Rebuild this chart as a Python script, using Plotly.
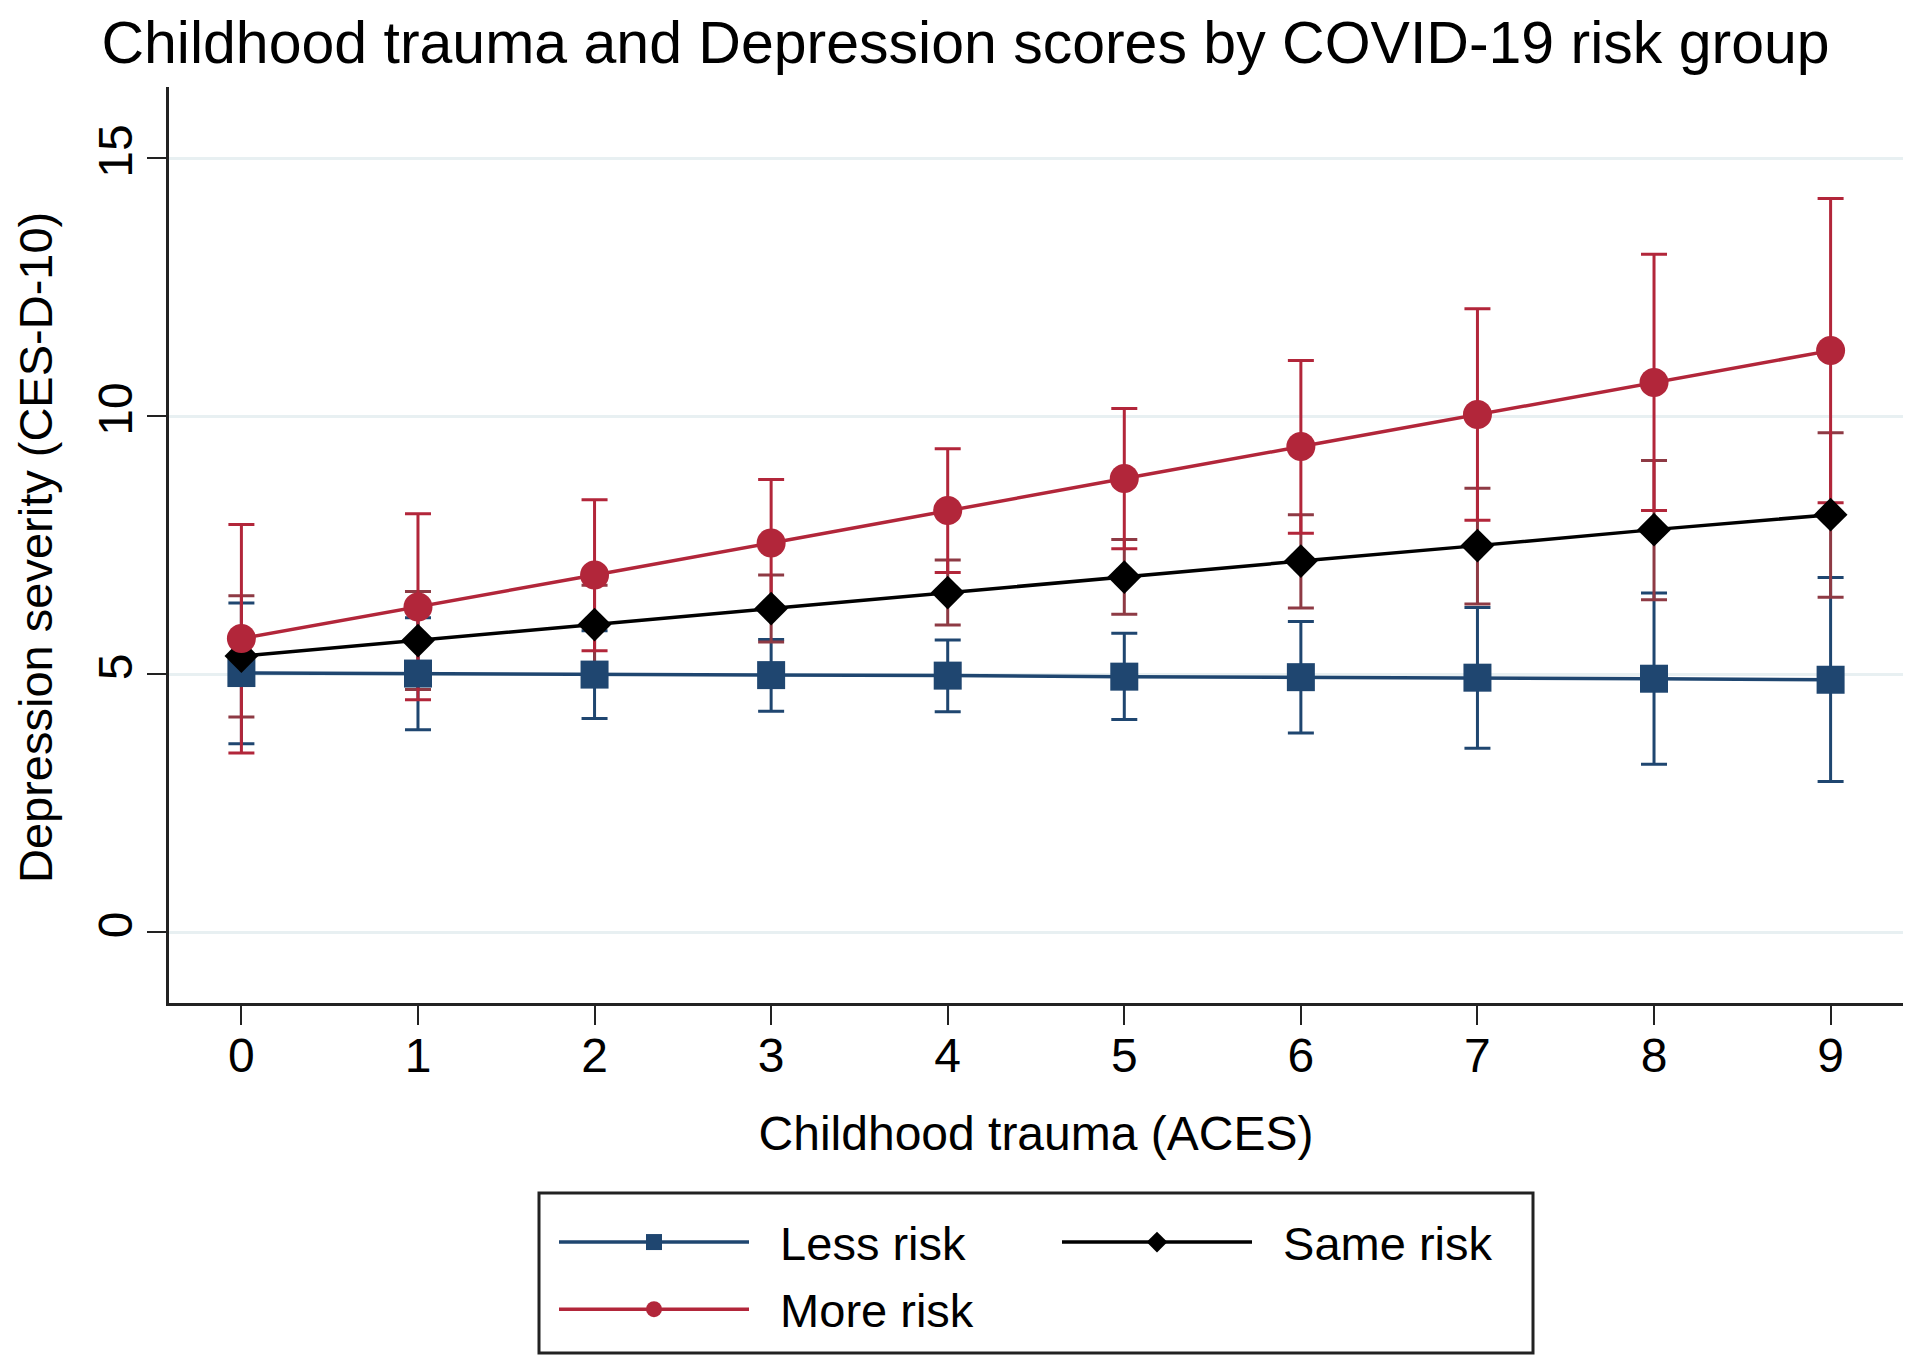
import plotly.graph_objects as go

# ---------------- data ----------------
aces = [0, 1, 2, 3, 4, 5, 6, 7, 8, 9]

less_mean = [5.02, 5.01, 4.99, 4.98, 4.97, 4.95, 4.94, 4.93, 4.91, 4.89]
less_lo   = [3.65, 3.92, 4.14, 4.28, 4.27, 4.12, 3.86, 3.56, 3.25, 2.92]
less_hi   = [6.38, 6.09, 5.84, 5.67, 5.66, 5.79, 6.02, 6.29, 6.57, 6.87]

same_mean = [5.35, 5.65, 5.96, 6.27, 6.58, 6.88, 7.19, 7.49, 7.80, 8.09]
same_lo   = [4.17, 4.70, 5.21, 5.62, 5.95, 6.16, 6.28, 6.36, 6.44, 6.49]
same_hi   = [6.52, 6.60, 6.72, 6.92, 7.21, 7.61, 8.09, 8.60, 9.14, 9.68]

more_mean = [5.69, 6.30, 6.92, 7.54, 8.17, 8.79, 9.41, 10.03, 10.65, 11.27]
more_lo   = [3.47, 4.50, 5.45, 6.30, 6.97, 7.43, 7.73, 7.98, 8.17, 8.32]
more_hi   = [7.90, 8.11, 8.38, 8.77, 9.37, 10.15, 11.08, 12.08, 13.14, 14.22]

group_names = ["Less risk", "Same risk", "More risk"]
y_ticks = [0, 5, 10, 15]

NAVY = "#1f4670"
RED = "#b2263a"
MAROON = "#8e3a44"
BLACK = "#000000"
FONT = "Liberation Sans"
GAP = "\u00a0\u00a0"  # small gap between legend key and its label

series = [
    (group_names[0], less_mean, less_lo, less_hi, NAVY, NAVY, "square", 28, "legend"),
    (group_names[1], same_mean, same_lo, same_hi, BLACK, MAROON, "diamond", 26, "legend2"),
    (group_names[2], more_mean, more_lo, more_hi, RED, RED, "circle", 29, "legend"),
]

fig = go.Figure()

# confidence intervals first (drawn beneath all markers)
for name, m, lo, hi, col, ecol, sym, size, lg in series:
    fig.add_trace(go.Scatter(
        x=aces, y=m, mode="markers",
        marker=dict(size=1, opacity=0, color=ecol),
        error_y=dict(type="data", symmetric=False,
                     array=[h - v for h, v in zip(hi, m)],
                     arrayminus=[v - l for v, l in zip(m, lo)],
                     color=ecol, thickness=3, width=13),
        showlegend=False, hoverinfo="skip",
    ))

# lines + markers
for name, m, lo, hi, col, ecol, sym, size, lg in series:
    fig.add_trace(go.Scatter(
        x=aces, y=m, mode="lines+markers", name=GAP + name,
        line=dict(color=col, width=3.5),
        marker=dict(symbol=sym, size=size, color=col, line=dict(width=0)),
        legend=lg, legendgroup=name,
    ))

W, H = 1920, 1359
OFF = 8  # page offset of the figure inside the browser window
L, R, T, B = 169 - OFF, 17 + OFF, 87 - OFF, 356 + OFF
pw, ph = W - L - R, H - T - B

def px(xs):
    return (xs - OFF - L) / pw

def py(ys):
    return (H - B - (ys - OFF)) / ph

fig.update_layout(
    width=W, height=H,
    margin=dict(l=L, r=R, t=T, b=B, autoexpand=False),
    plot_bgcolor="white", paper_bgcolor="white",
    font=dict(family=FONT, size=47, color="black"),
    title=dict(text="Childhood trauma and Depression scores by COVID-19 risk group",
               font=dict(size=59, color="black"),
               x=(965.5 - OFF) / W, xref="container", xanchor="center",
               y=1 - 34 / H, yref="container", yanchor="middle"),
    xaxis=dict(range=[-0.41, 9.41], tickmode="array", tickvals=aces,
               ticks="outside", ticklen=19, tickwidth=2, tickcolor="#222",
               showline=True, linecolor="#222", linewidth=3,
               showgrid=False, zeroline=False,
               tickfont=dict(size=48), ticklabelstandoff=-11,
               title=dict(text="Childhood trauma (ACES)", font=dict(size=48), standoff=36)),
    yaxis=dict(range=[-1.376, 16.38], tickmode="array", tickvals=y_ticks,
               tickangle=-90,
               ticks="outside", ticklen=19, tickwidth=2, tickcolor="#222",
               showline=True, linecolor="#222", linewidth=3,
               showgrid=True, gridcolor="#e8f0f2", gridwidth=3,
               zeroline=False,
               tickfont=dict(size=48), ticklabelstandoff=-4),
    annotations=[dict(text="Depression severity (CES-D-10)", textangle=-90,
                      xref="paper", yref="paper", x=px(35), y=py(548),
                      xanchor="center", yanchor="middle", showarrow=False,
                      font=dict(size=47, color="black"))],
    legend=dict(x=546 / W, xref="container", xanchor="left",
                y=1 - 1197 / H, yref="container", yanchor="top",
                orientation="v", itemwidth=190, tracegroupgap=3,
                bgcolor="rgba(0,0,0,0)", borderwidth=0,
                font=dict(size=47)),
    legend2=dict(x=1049 / W, xref="container", xanchor="left",
                 y=1 - 1197 / H, yref="container", yanchor="top",
                 orientation="v", itemwidth=190,
                 bgcolor="rgba(0,0,0,0)", borderwidth=0,
                 font=dict(size=47)),
    shapes=[dict(type="rect", xref="paper", yref="paper",
                 x0=px(539), x1=px(1533), y0=py(1353), y1=py(1193),
                 line=dict(color="#222", width=3), fillcolor="rgba(0,0,0,0)")],
    showlegend=True,
)

fig.write_html("out.html")
